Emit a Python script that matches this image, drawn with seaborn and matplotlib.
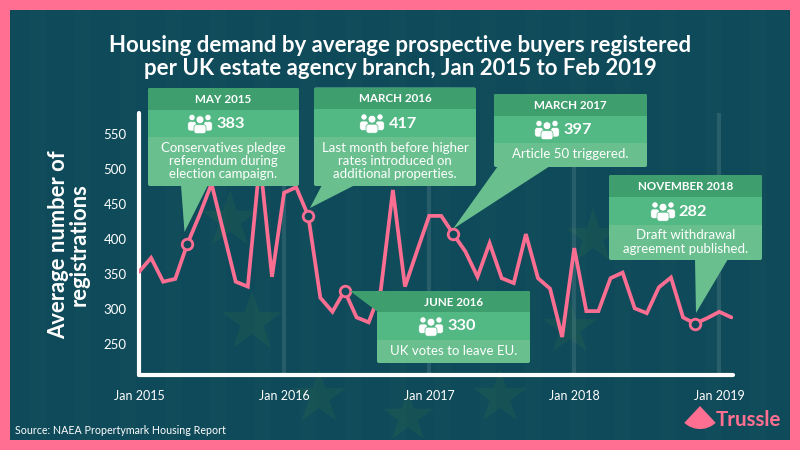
import numpy as np
import pandas as pd
import matplotlib
matplotlib.use("Agg")
import matplotlib.pyplot as plt
from matplotlib.patches import FancyBboxPatch, Polygon, Rectangle, Circle, Wedge
import seaborn as sns

# ---------- data ----------
months = list(range(50))  # months since Jan 2015
registrations = [353, 373, 339, 343, 393, 434, 479, 409, 339, 332, 512, 346,
                 466, 474, 433, 316, 296, 326, 288, 281, 327, 470, 332, 383,
                 433, 433, 407, 382, 346, 394, 344, 337, 407, 344, 329, 260,
                 387, 297, 297, 344, 352, 301, 294, 331, 345, 288, 279, 287,
                 296, 288]
event_months = [4, 14, 17, 26, 46]
tick_months = [0, 12, 24, 36, 48]
tick_labels = ["Jan 2015", "Jan 2016", "Jan 2017", "Jan 2018", "Jan 2019"]
y_ticks = [250, 300, 350, 400, 450, 500, 550]

title = "Housing demand by average prospective buyers registered\nper UK estate agency branch, Jan 2015 to Feb 2019"
y_label = "Average number of\nregistrations"
source = "Source: NAEA Propertymark Housing Report"

PINK = "#FF6F91"
LINE = "#FA6E92"
BG = "#0F4A5A"
HEAD = "#3F9E6E"
MID = "#52B884"
BODY = "#6ABF8E"
STAR = "#24604F"

sns.set_theme(style="white")
plt.rcParams["font.family"] = ["Lato", "DejaVu Sans"]

W, H = 800, 450
fig = plt.figure(figsize=(8, 4.5), dpi=100, facecolor=PINK)


def px_axes(l, t, r, b, **kw):
    return fig.add_axes([l / W, 1 - b / H, (r - l) / W, (b - t) / H], **kw)


# ---------- background ----------
bg = fig.add_axes([0, 0, 1, 1], zorder=0)
bg.set_xlim(0, W)
bg.set_ylim(H, 0)
bg.axis("off")
bg.add_patch(Rectangle((10, 10), 780, 430, fc=BG, ec="none"))
star_x = [230, 252, 593, 570, 319, 408, 500]
star_y = [220, 322, 237, 328, 397, 417, 397]
star_s = [1900, 2100, 1700, 1700, 1700, 1500, 1700]
bg.scatter(star_x, star_y, s=star_s, marker="*", color=STAR, alpha=0.38, linewidths=0)
for vx in range(30, 790, 45):
    bg.add_patch(Rectangle((vx, 10), 16, 430, fc="#FFFFFF", alpha=0.012, ec="none"))

# ---------- chart ----------
ax = px_axes(139, 113, 733, 375, zorder=1)
ax.patch.set_alpha(0)
df = pd.DataFrame({"month": months, "registrations": registrations})
for m in tick_months[1:]:
    ax.axvline(m, color="white", alpha=0.1, lw=3, zorder=0)
sns.lineplot(data=df, x="month", y="registrations", ax=ax, color=LINE, linewidth=2.7,
             solid_joinstyle="miter", zorder=3, clip_on=True)
sns.scatterplot(data=df[df["month"].isin(event_months)], x="month", y="registrations", ax=ax,
                s=58, color=BG, edgecolor=LINE, linewidth=2.0, zorder=4)
ax.set_xlim(0, 594 / 12.09)
ax.set_ylim(550 - (375 - 134) / 0.7, 550 + (134 - 113) / 0.7)
ax.set_xticks(tick_months, tick_labels)
ax.set_yticks(y_ticks)
ax.tick_params(axis="x", colors="white", labelsize=9, length=3, width=2, pad=8)
ax.tick_params(axis="y", colors="white", labelsize=9.5, length=0, pad=9)
ax.set_xlabel("")
ax.set_ylabel("")
for s in ["top", "right"]:
    ax.spines[s].set_visible(False)
for s in ["left", "bottom"]:
    ax.spines[s].set_color("white")
    ax.spines[s].set_linewidth(3)
    ax.spines[s].set_capstyle("round")

# ---------- overlay: callouts and text ----------
ov = fig.add_axes([0, 0, 1, 1], zorder=5)
ov.set_xlim(0, W)
ov.set_ylim(H, 0)
ov.axis("off")
ov.patch.set_alpha(0)


def people(cx, cy):
    for dx, hy, r, by, bw, bh, z in [(-8, -6.0, 3.1, -2.0, 8.5, 9.5, 9), (8, -6.0, 3.1, -2.0, 8.5, 9.5, 9),
                                     (0, -3.8, 3.9, 1.2, 12.0, 9.0, 10)]:
        ov.add_patch(FancyBboxPatch((cx + dx - bw / 2 + 2.5, cy + by + 2.5), bw - 5, bh - 5,
                                    boxstyle="round,pad=2.5,rounding_size=2.5",
                                    fc="white", ec=MID, lw=0.5, zorder=z))
        ov.add_patch(Circle((cx + dx, cy + hy), r, fc="white", ec=MID, lw=0.5, zorder=z))


def callout(l, t, r, b, h1, h2, tail, tail_color, head, value, body, icon_x, val_x):
    ov.add_patch(Polygon(tail, closed=True, fc=tail_color, ec="none", zorder=6))
    box = FancyBboxPatch((l + 2, t + 2), r - l - 4, b - t - 4, boxstyle="round,pad=2,rounding_size=2",
                         fc=BODY, ec="none", zorder=6)
    ov.add_patch(box)
    for y0, y1, col in [(t, h1, HEAD), (h1, h2, MID)]:
        rect = Rectangle((l, y0), r - l, y1 - y0, fc=col, ec="none", zorder=7)
        ov.add_patch(rect)
        rect.set_clip_path(box)
    cx = (l + r) / 2
    ov.text(cx, (t + h1) / 2 + 0.5, head, color="white", fontsize=8.4, fontweight="bold",
            ha="center", va="center", zorder=11)
    people(icon_x, (h1 + h2) / 2)
    ov.text(val_x, (h1 + h2) / 2 + 0.5, value, color="white", fontsize=11.8, fontweight="bold",
            ha="center", va="center", zorder=11)
    ov.text(cx, (h2 + b) / 2 - 0.5, body, color="white", fontsize=9.5, ha="center", va="center",
            linespacing=1.13, zorder=11)


callout(148, 88, 299, 186, 110, 137,
        [(181, 185), (208, 185), (184.5, 232)], BODY, "MAY 2015", "383",
        "Conservatives pledge\nreferendum during\nelection campaign.", 200, 231)
callout(314, 87.5, 476, 186, 109, 137,
        [(322, 185), (355, 185), (310, 208)], BODY, "MARCH 2016", "417",
        "Last month before higher\nrates introduced on\nadditional properties.", 372, 403)
callout(494, 94, 647, 167, 116, 143,
        [(498, 166), (550, 166), (453, 229)], BODY, "MARCH 2017", "397",
        "Article 50 triggered.", 547, 578)
callout(609, 175, 762, 260, 197, 225,
        [(695, 259), (728, 259), (696, 313)], BODY, "NOVEMBER 2018", "282",
        "Draft withdrawal\nagreement published.", 663, 693)
callout(377, 291, 530, 363, 312, 340,
        [(350, 291), (378, 291), (378, 312)], HEAD, "JUNE 2016", "330",
        "UK votes to leave EU.", 431, 462)

# titles, labels
ov.text(400, 57, title, color="white", fontsize=16, fontweight="bold", ha="center", va="center",
        linespacing=1.1)
ov.text(69, 245, y_label, color="white", fontsize=15.8, fontweight="bold", rotation=90,
        ha="center", va="center", linespacing=1.0)
ov.text(15, 431, source, color="white", fontsize=7.7, ha="left", va="center")

# logo
ov.add_patch(Wedge((700, 406), 23, 47, 133, fc=PINK, ec="none"))
ov.text(748.5, 420, "Trussle", color=PINK, fontsize=14.8, fontweight="bold", ha="center", va="center")

fig.savefig("out.png", dpi=100, facecolor=fig.get_facecolor())
